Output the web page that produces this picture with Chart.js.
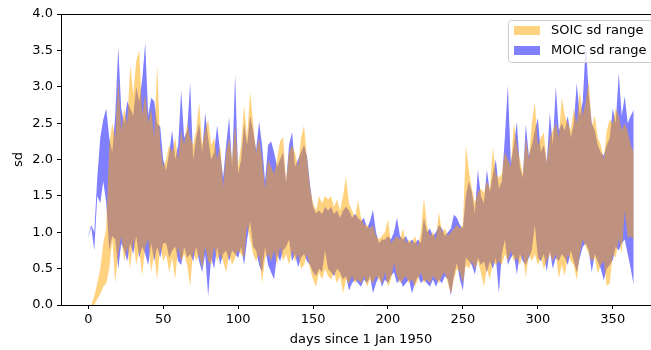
<!DOCTYPE html>
<html>
<head>
<meta charset="utf-8">
<script src="https://cdn.jsdelivr.net/npm/chart.js@4"></script>
<style>
  html, body { margin: 0; padding: 0; background: #fff; overflow: hidden; }
  #wrap { width: 700px; height: 350px; }
</style>
</head>
<body>
<div id="wrap"><canvas id="sdChart" width="700" height="350"></canvas></div>
<script>
// days since 1 Jan 1950, every second day
const days = Array.from({ length: 183 }, (_, i) => i * 2);

// SOIC sd range (upper / lower)
const soicUpper = [
  0, 0, 0.12, 0.3, 0.5, 0.85, 1.05, 2.2, 2.5, 2.3,
  3.1, 2.4, 2.7, 2.5, 3.3, 2.9, 3.35, 3.5, 2.6, 2.9,
  2.5, 2.7, 2.3, 3.3, 2.2, 1.9, 2.0, 2.2, 2.1, 2.3,
  2.0, 2.4, 2.2, 2.5, 2.3, 2.2, 2.4, 2.78, 2.2, 2.4,
  2.55, 2.2, 2.3, 2.0, 2.2, 1.62, 2.1, 2.3, 2.0, 2.5,
  1.9, 2.2, 2.75, 2.3, 2.93, 2.5, 2.1, 2.3, 2.0, 1.6,
  2.0, 1.9, 1.8, 2.0, 2.25, 2.31, 1.7, 2.1, 2.2, 2.09,
  1.9, 2.3, 2.47, 2.0, 1.6, 1.4, 1.3, 1.5, 1.4, 1.5,
  1.45, 1.5, 1.35, 1.45, 1.3, 1.5, 1.76, 1.4, 1.3, 1.2,
  1.44, 1.2, 1.1, 1.1, 1.05, 1.1, 0.95, 0.9, 0.95, 1.0,
  1.18, 0.85, 0.9, 0.95, 0.9, 1.05, 0.85, 0.9, 0.85, 0.95,
  0.8, 1.0, 1.48, 1.1, 0.95, 1.0, 0.9, 1.28, 1.0, 1.05,
  0.95, 1.0, 1.05, 1.1, 1.05, 1.1, 2.2, 1.85, 1.6, 1.4,
  1.55, 1.6, 1.54, 1.7, 1.6, 2.17, 1.8, 1.75, 1.8, 2.1,
  2.0, 1.9, 2.5, 2.2, 2.0, 1.8, 2.3, 2.0, 2.5, 2.79,
  2.2, 2.3, 2.37, 1.95, 2.3, 2.4, 2.5, 2.3, 2.86, 2.6,
  2.5, 2.4, 2.7, 2.5, 2.95, 2.6, 2.8, 3.09, 2.45, 2.6,
  2.3, 2.2, 2.0, 2.4, 2.55, 2.5, 2.7, 2.6, 2.4, 2.5,
  2.38, 2.2, 2.1
];
const soicLower = [
  0, 0, 0, 0.08, 0.15, 0.25, 0.3, 0.5, 0.9, 0.3,
  0.7, 0.95, 0.6, 0.8, 0.5, 0.9, 0.55, 0.75, 0.4, 0.8,
  0.9, 0.45, 0.7, 0.35, 0.8, 0.6, 0.7, 0.45, 0.65, 0.35,
  0.8, 0.6, 0.7, 0.55, 0.25, 0.75, 0.6, 0.7, 0.5, 0.8,
  0.6, 0.55, 0.8, 0.6, 0.7, 0.6, 0.45, 0.7, 0.55, 0.65,
  0.75, 0.7, 0.65, 1.1, 0.9, 0.7, 0.6, 0.7, 0.3, 0.65,
  0.7, 0.6, 0.75, 0.55, 0.8, 0.6, 0.7, 0.55, 0.75, 0.6,
  0.7, 0.5, 0.55, 0.7, 0.5, 0.35, 0.25, 0.45, 0.35, 0.5,
  0.4, 0.35, 0.45, 0.3, 0.4, 0.16, 0.35, 0.3, 0.4, 0.3,
  0.35, 0.3, 0.4, 0.25, 0.35, 0.3, 0.4, 0.35, 0.3, 0.45,
  0.25, 0.35, 0.58, 0.4, 0.3, 0.35, 0.4, 0.3, 0.35, 0.25,
  0.35, 0.45, 0.3, 0.35, 0.3, 0.4, 0.35, 0.3, 0.4, 0.45,
  0.3, 0.15, 0.35, 0.5, 0.45, 0.3, 0.55, 0.5, 0.6, 0.5,
  0.6, 0.45, 0.25, 0.5, 0.35, 0.6, 0.55, 0.6, 0.55, 0.7,
  0.6, 0.75, 0.6, 0.65, 0.55, 0.7, 0.38, 0.7, 0.6, 0.7,
  0.55, 0.65, 0.5, 0.6, 0.7, 0.6, 0.7, 0.37, 0.55, 0.4,
  0.7, 0.6, 0.55, 0.34, 0.7, 0.9, 0.8, 0.7, 0.6, 0.65,
  0.43, 0.55, 0.6, 0.26, 0.3, 0.7, 0.65, 0.92, 0.7, 1.3,
  0.92, 0.95, 0.9
];

// MOIC sd range (upper / lower)
const moicUpper = [
  0.95, 1.1, 1.0, 1.75, 2.3, 2.55, 2.7, 2.3, 2.1, 2.6,
  3.55, 2.7, 2.5, 2.8, 2.7, 2.6, 3.0, 2.8, 3.1, 3.6,
  2.6, 2.85, 2.8, 2.5, 2.45, 2.0, 1.85, 2.1, 2.4, 2.0,
  2.2, 2.95, 2.3, 2.4, 3.05, 2.0, 2.3, 2.5, 2.1, 2.64,
  2.3, 2.0, 2.1, 2.47, 2.1, 1.75, 2.2, 2.58, 1.9, 3.16,
  1.8, 2.0, 2.5, 2.2, 2.6, 2.4, 2.13, 2.52, 2.2, 1.7,
  2.2, 2.25, 2.1, 1.9, 2.0, 2.1, 1.68, 2.2, 2.38, 1.9,
  2.0, 2.1, 2.2, 2.04, 1.65, 1.35, 1.26, 1.3, 1.25, 1.35,
  1.3, 1.35, 1.25, 1.3, 1.2, 1.3, 1.35, 1.3, 1.2, 1.25,
  1.2, 1.15, 1.2, 1.05, 1.15, 1.31, 1.0, 0.85, 0.9, 0.9,
  0.95, 0.9, 1.0, 1.2, 0.95, 0.9, 0.95, 0.85, 0.9, 0.85,
  0.9, 0.85, 1.2, 1.0, 1.05, 0.95, 1.0, 1.1, 1.05, 0.95,
  1.0, 1.05, 1.24, 1.2, 1.1, 1.05, 1.5, 1.7, 1.55, 1.26,
  1.86, 1.5, 1.4, 1.86, 1.55, 1.8, 2.0, 1.6, 1.7, 2.31,
  3.02, 1.95, 2.2, 2.52, 1.9, 1.75, 2.48, 2.05, 2.2, 2.4,
  2.57, 2.1, 2.2, 1.96, 2.64, 2.2, 3.0, 2.4, 2.5, 2.4,
  2.6, 2.3, 2.5, 3.05, 2.6, 2.8, 3.6, 2.9, 2.5, 2.4,
  2.2, 2.1, 2.05, 2.2, 2.3, 2.7, 2.5, 3.19, 2.6, 2.87,
  2.5, 2.6, 2.68
];
const moicLower = [
  0.93, 1.07, 0.75, 1.5, 1.4, 1.7, 1.4, 0.75, 0.95, 0.9,
  0.5, 0.85, 0.75, 0.6, 0.85, 0.7, 0.95, 0.65, 0.8, 0.7,
  0.55, 0.85, 0.6, 0.8, 0.65, 0.85, 0.85, 0.65, 0.75, 0.8,
  0.6, 0.55, 0.8, 0.65, 0.7, 0.6, 0.8, 0.6, 0.45, 0.7,
  0.12, 0.65, 0.5, 0.8, 0.55, 0.7, 0.75, 0.6, 0.75, 0.7,
  0.65, 0.8, 0.55, 0.9, 1.15, 0.8, 0.75, 0.55, 0.45, 0.8,
  0.55, 0.45, 0.35, 0.7, 0.6, 0.75, 0.8, 0.9, 0.6, 0.7,
  0.52, 0.65, 0.7, 0.6, 0.55, 0.45, 0.4, 0.5, 0.45, 0.75,
  0.5, 0.45, 0.4, 0.5, 0.45, 0.35, 0.4, 0.2, 0.3, 0.35,
  0.3, 0.25, 0.35, 0.3, 0.4, 0.16, 0.3, 0.4, 0.25, 0.35,
  0.3, 0.4, 0.45, 0.3, 0.35, 0.25, 0.3, 0.35, 0.16, 0.3,
  0.4, 0.3, 0.35, 0.3, 0.25, 0.35, 0.25, 0.35, 0.3, 0.4,
  0.35, 0.13, 0.4, 0.58, 0.35, 0.2, 0.65, 0.6, 0.55, 0.42,
  0.65, 0.55, 0.6, 0.45, 0.6, 0.5, 0.65, 0.16, 0.7, 0.9,
  0.55, 0.65, 0.7, 0.42, 0.7, 0.6, 0.55, 0.65, 0.75, 1.1,
  0.65, 0.6, 0.7, 0.46, 0.75, 0.5, 0.65, 0.6, 0.7, 0.65,
  0.55, 0.75, 0.6, 0.45, 0.65, 0.8, 0.85, 0.75, 0.45, 0.7,
  0.6, 0.5, 0.34, 0.5, 0.55, 0.62, 0.8, 0.75, 0.85, 0.9,
  0.7, 0.5, 0.27
];

const xTicks = [0, 50, 100, 150, 200, 250, 300, 350];
const seriesNames = ['SOIC sd range', 'MOIC sd range'];

const ORANGE = 'rgba(255, 165, 0, 0.5)';
const BLUE = 'rgba(0, 0, 255, 0.5)';
const FONT = 'DejaVu Sans';
const FSIZE = 13;

function pts(arr) {
  return days.map((d, i) => ({ x: d, y: arr[i] }));
}

function band(data, color, fillNext) {
  return {
    data: pts(data),
    borderWidth: 0,
    borderColor: 'rgba(0,0,0,0)',
    backgroundColor: color,
    pointRadius: 0,
    tension: 0,
    fill: fillNext ? '+1' : false
  };
}

// matplotlib style frame + legend inside the axes
const framePlugin = {
  id: 'frame',
  afterDraw(chart) {
    const { ctx, chartArea: a } = chart;
    ctx.save();
    ctx.strokeStyle = '#000';
    ctx.lineWidth = 1;
    ctx.beginPath();
    ctx.moveTo(a.left, a.top + 0.5);
    ctx.lineTo(a.right, a.top + 0.5);
    ctx.moveTo(a.right - 0.5, a.top);
    ctx.lineTo(a.right - 0.5, a.bottom);
    ctx.stroke();

    // legend box
    const bx = a.right - 152.5, by = a.top + 6, bw = 147, bh = 42;
    ctx.fillStyle = 'rgba(255,255,255,0.8)';
    ctx.strokeStyle = '#cccccc';
    ctx.beginPath();
    ctx.roundRect(bx, by + 0.5, bw, bh, 3);
    ctx.fill();
    ctx.stroke();
    const colors = [ORANGE, BLUE];
    ctx.font = FSIZE + 'px "' + FONT + '"';
    ctx.textBaseline = 'middle';
    seriesNames.forEach((name, i) => {
      const cy = by + 10.5 + i * 20;
      ctx.fillStyle = colors[i];
      ctx.fillRect(bx + 5.5, cy - 4.5, 26, 9);
      ctx.fillStyle = '#000';
      ctx.fillText(name, bx + 42.5, cy + 0.5);
    });
    ctx.restore();
  }
};

new Chart(document.getElementById('sdChart'), {
  type: 'line',
  data: {
    datasets: [
      band(soicUpper, ORANGE, true),
      band(soicLower, ORANGE, false),
      band(moicUpper, BLUE, true),
      band(moicLower, BLUE, false)
    ]
  },
  options: {
    responsive: false,
    animation: false,
    layout: { padding: { top: 14, right: 39, left: 0, bottom: 0 } },
    plugins: {
      legend: { display: false },
      tooltip: { enabled: false }
    },
    scales: {
      x: {
        type: 'linear',
        min: -18.2,
        max: 382.2,
        afterBuildTicks(scale) {
          scale.ticks = xTicks.map(v => ({ value: v }));
        },
        afterFit(scale) { scale.height = 45; },
        grid: { display: true, drawOnChartArea: false, color: '#000', tickLength: 4 },
        border: { display: true, color: '#000', width: 1 },
        ticks: { color: '#000', font: { family: FONT, size: FSIZE }, padding: 3, maxRotation: 0 },
        title: {
          display: true,
          text: 'days since 1 Jan 1950',
          color: '#000',
          font: { family: FONT, size: FSIZE },
          padding: { top: 0, bottom: 3 }
        }
      },
      y: {
        min: 0,
        max: 4,
        afterFit(scale) { scale.width = 61; },
        grid: { display: true, drawOnChartArea: false, color: '#000', tickLength: 4 },
        border: { display: true, color: '#000', width: 1 },
        ticks: {
          stepSize: 0.5,
          color: '#000',
          font: { family: FONT, size: FSIZE },
          padding: 4,
          callback: v => v.toFixed(1)
        },
        title: {
          display: true,
          text: 'sd',
          color: '#000',
          font: { family: FONT, size: FSIZE },
          padding: { top: 11, bottom: 0 }
        }
      }
    }
  },
  plugins: [framePlugin]
});
</script>
</body>
</html>
